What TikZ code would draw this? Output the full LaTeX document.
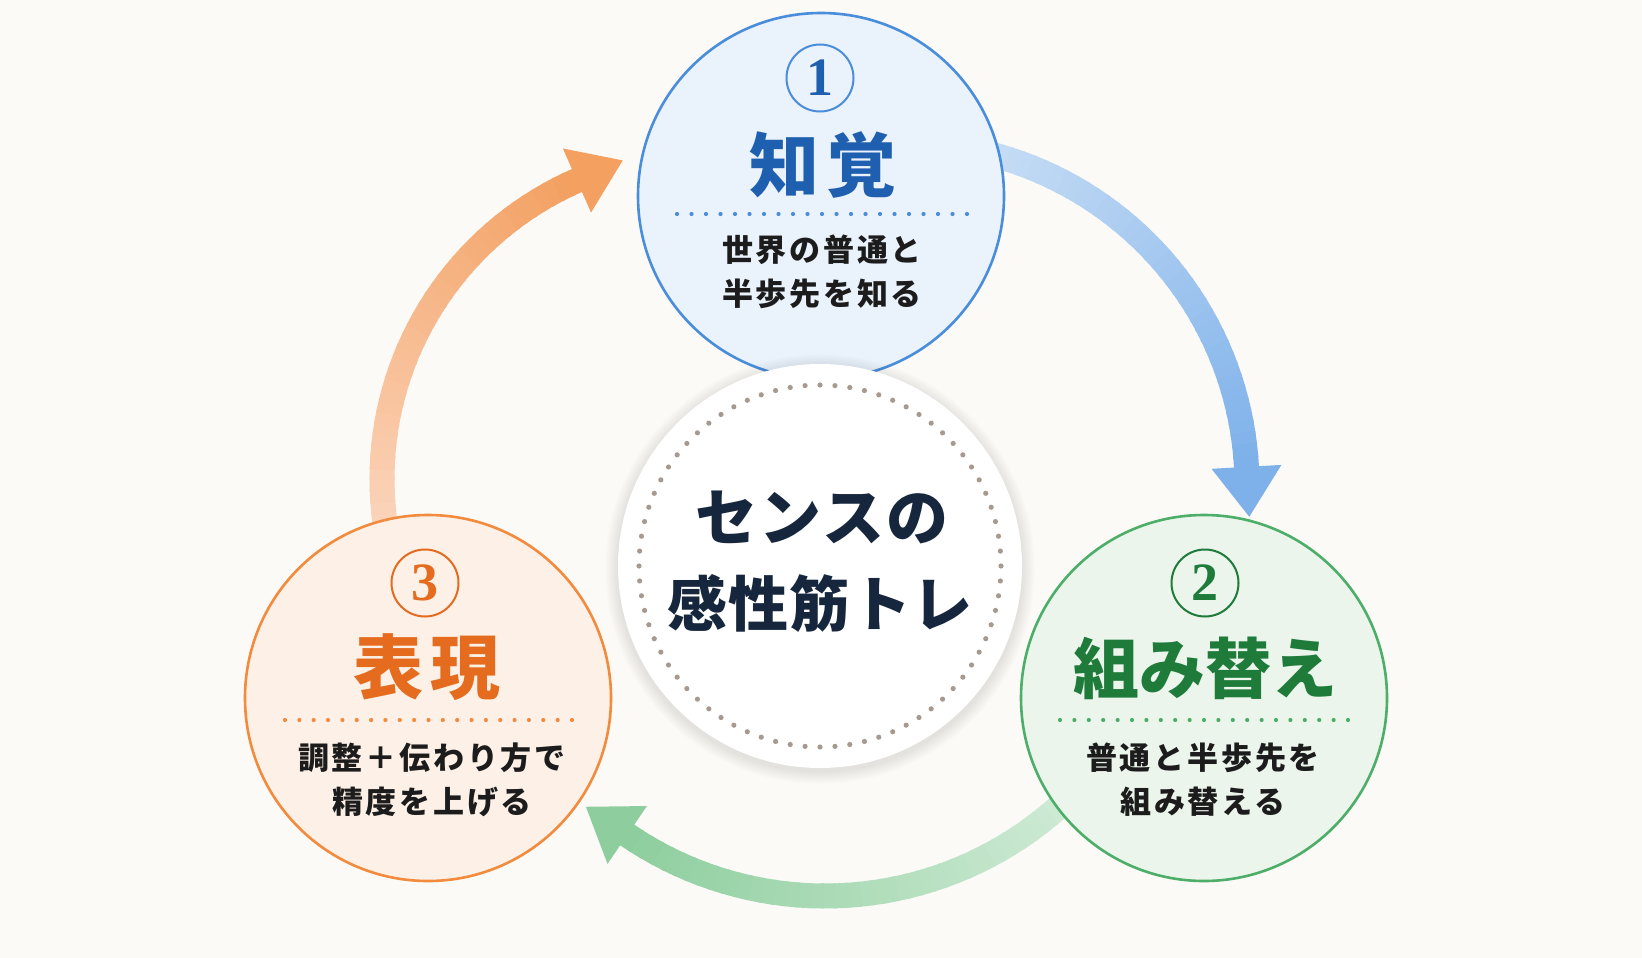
\documentclass[tikz,border=0pt]{standalone}
\usepackage{fontspec}
\newfontfamily\jp{Noto Sans CJK JP}
\newfontfamily\numf{Liberation Serif}
\usetikzlibrary{calc}
\definecolor{bg}{HTML}{FBFAF7}
\definecolor{blueS}{HTML}{4A8EDB}
\definecolor{blueF}{HTML}{EAF2FC}
\definecolor{blueT}{HTML}{1F5FAF}
\definecolor{blueA0}{HTML}{CADFF5}
\definecolor{blueA1}{HTML}{7EB1EA}
\definecolor{greenS}{HTML}{4DAE69}
\definecolor{greenF}{HTML}{EBF5EC}
\definecolor{greenT}{HTML}{1E7B3A}
\definecolor{greenA0}{HTML}{D0EBD6}
\definecolor{greenA1}{HTML}{8ECE9E}
\definecolor{orS}{HTML}{F28B3D}
\definecolor{orF}{HTML}{FDF1E7}
\definecolor{orT}{HTML}{E56B1F}
\definecolor{orA0}{HTML}{FBD6BE}
\definecolor{orA1}{HTML}{F3A061}
\definecolor{ink}{HTML}{1C1C1C}
\definecolor{navy}{HTML}{16263C}
\definecolor{dotc}{HTML}{A69A90}
% gradient arc: cx, cy, r, a0, a1, col0, col1
\newcommand{\gradarc}[7]{%
  \foreach \k in {0,...,39}{%
    \pgfmathsetmacro\gA{#4+(#5-#4)*\k/40}%
    \pgfmathsetmacro\gB{#4+(#5-#4)*(\k+1)/40+0.5}%
    \pgfmathsetmacro\gP{100*\k/39}%
    \draw[line width=25pt, color=#7!\gP!#6] (#1,#2) ++(\gA:#3) arc[start angle=\gA, end angle=\gB, radius=#3];
  }%
  \fill[#7] ($(#1,#2)+(#5:#3)+(#5:35)$) -- ($(#1,#2)+(#5:#3)+(#5:-35)$) -- ($(#1,#2)+(#5:#3)+(#5+90:50)$) -- cycle;
}
\tikzset{
  stage/.style={circle, minimum size=366pt, line width=2.6pt, inner sep=0pt},
  numring/.style={circle, minimum size=67pt, line width=2pt, inner sep=0pt, font=\numf\bfseries\fontsize{54}{54}\selectfont},
  title/.style={inner sep=0pt, font=\jp\bfseries\fontsize{70}{70}\selectfont\addfontfeatures{LetterSpace=9}},
  sub/.style={inner sep=0pt, text=ink, align=center, font=\jp\bfseries\fontsize{31}{44}\selectfont\addfontfeatures{LetterSpace=9}},
}
\begin{document}
\begin{tikzpicture}[x=1pt,y=-1pt]
\fill[bg] (0,0) rectangle (1642,958);
\useasboundingbox (0,0) rectangle (1642,958);
% arrows (under circles)
\gradarc{904}{486}{343}{-80}{-3.2}{blueA0}{blueA1}
\gradarc{825}{545}{351}{44}{124.3}{greenA0}{greenA1}
\gradarc{708}{479}{326}{168}{246.3}{orA0}{orA1}
% stage circles
\node[stage, draw=blueS, fill=blueF] (perc) at (821,196) {};
\node[stage, draw=greenS, fill=greenF] (reco) at (1204,698) {};
\node[stage, draw=orS, fill=orF] (expr) at (428,698) {};
% center circle with shadow
\foreach \s in {1,...,8}{
  \fill[black, opacity=0.012] (820,569) circle[radius=202+\s*1.6];
}
\node[circle, minimum size=404pt, fill=white, inner sep=0pt] (core) at (820,566) {};
\foreach \i in {0,...,75}{
  \fill[dotc] (core.center) ++(\i*4.736842:181) circle[radius=2.6];
}
\node[inner sep=0pt, text=navy, font=\jp\bfseries\fontsize{62}{62}\selectfont\addfontfeatures{LetterSpace=3}] (c1) at (822,517) {センスの};
\node[inner sep=0pt, text=navy, font=\jp\bfseries\fontsize{60}{60}\selectfont\addfontfeatures{LetterSpace=2}] (c2) at (820,603) {感性筋トレ};
% stage 1
\node[numring, draw=blueS, text=blueT] (n1) at (820,78) {1};
\node[title, text=blueT] (t1) at (823,165) {知覚};
\foreach \i in {0,...,20}{ \fill[blueS] (677+\i*14.5,214) circle[radius=2.1]; }
\node[sub] (s1) at (822,272) {世界の普通と\\半歩先を知る};
% stage 2
\node[numring, draw=greenT, text=greenT] (n2) at (1205,583) {2};
\node[title, text=greenT, font=\jp\bfseries\fontsize{66}{66}\selectfont] (t2) at (1205,668) {組み替え};
\foreach \i in {0,...,20}{ \fill[greenS] (1060+\i*14.4,720) circle[radius=2.1]; }
\node[sub] (s2) at (1203,780) {普通と半歩先を\\組み替える};
% stage 3
\node[numring, draw=orT, text=orT] (n3) at (425,583) {3};
\node[title, text=orT] (t3) at (427,667) {表現};
\foreach \i in {0,...,20}{ \fill[orS] (285+\i*14.35,720) circle[radius=2.1]; }
\node[sub] (s3) at (432,780) {調整＋伝わり方で\\精度を上げる};
\end{tikzpicture}
\end{document}
